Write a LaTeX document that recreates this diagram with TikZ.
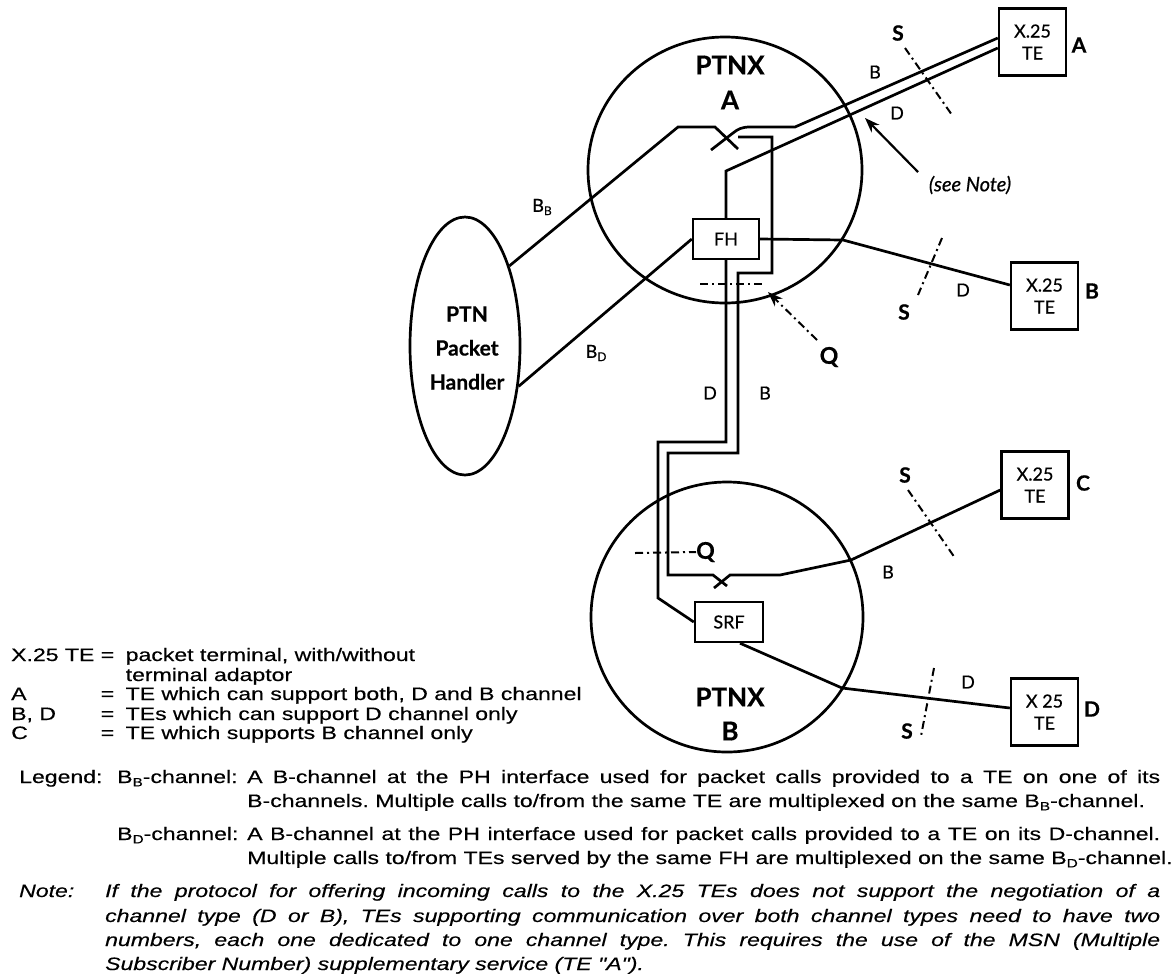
\documentclass[tikz,border=0pt]{standalone}
\usepackage{fontspec}
\setmainfont{Liberation Sans}
\newfontfamily\legfont[FakeStretch=1.28,FakeBold=0.4]{Liberation Sans}
\newfontfamily\labfont[FakeBold=0.6]{Lato}
\usetikzlibrary{shapes.geometric,arrows.meta}
\newcommand\chsub[1]{\raisebox{-0.35ex}{\fontsize{12}{12}\selectfont #1}}
\frenchspacing
\begin{document}
\begin{tikzpicture}[x=1pt,y=-1pt,
  ln/.style={line width=2.7pt},
  bx/.style={draw,line width=2.4pt,inner sep=0pt,align=center},
  tebox/.style={bx,minimum width=67pt,minimum height=67pt,font=\labfont\fontsize{18}{22}\selectfont},
  dd/.style={line width=2pt,dash pattern=on 8pt off 4pt on 2pt off 4pt},
  lab/.style={font=\labfont\fontsize{18}{20}\selectfont,inner sep=0pt},
  blab/.style={font=\labfont\bfseries\fontsize{21}{24}\selectfont,inner sep=0pt},
  big/.style={font=\labfont\bfseries\fontsize{26}{28}\selectfont,inner sep=0pt},
  sq/.style={font=\labfont\bfseries\fontsize{21}{24}\selectfont,inner sep=0pt},
  leg/.style={font=\legfont\fontsize{18}{20}\selectfont,anchor=base west,inner sep=0pt},
  legi/.style={leg,font=\legfont\itshape\fontsize{18}{20}\selectfont},
  arr/.style={line width=2.2pt,-{Stealth[length=15pt,width=11pt]}}
]
\useasboundingbox (0,0) rectangle (1174,975);

% ---- main shapes
\node[draw,ellipse,ln,minimum width=274pt,minimum height=266pt,inner sep=0pt] (ptnxA) at (725,170) {};
\node[draw,ellipse,ln,minimum width=272pt,minimum height=270pt,inner sep=0pt] (ptnxB) at (727,617) {};
\node[draw,ellipse,ln,minimum width=110pt,minimum height=258pt,inner sep=0pt] (ph) at (465,346) {};

\node[big] (ptnxAt) at (730,65) {PTNX};
\node[big] (ptnxAn) at (730,100) {A};
\node[big] (ptnxBt) at (730,697) {PTNX};
\node[big] (ptnxBn) at (730,731) {B};
\node[blab,align=center,font=\labfont\bfseries\fontsize{21}{34}\selectfont] (pht) at (467,348) {PTN\\Packet\\Handler};

\node[bx,lab,minimum width=66pt,minimum height=40pt] (fh) at (726,239) {FH};
\node[bx,lab,minimum width=68pt,minimum height=40pt] (srf) at (729,622) {SRF};

\node[tebox] (teA) at (1032.5,42) {X.25\\TE};
\node[tebox] (teB) at (1044.5,296) {X.25\\TE};
\node[tebox] (teC) at (1035,485) {X.25\\TE};
\node[tebox] (teD) at (1044.5,712) {X 25\\TE};

\node[blab] (teAl) at (1079,45) {A};
\node[blab] (teBl) at (1092,291) {B};
\node[blab] (teCl) at (1083,483) {C};
\node[blab] (teDl) at (1092,709) {D};

% ---- bend points
\coordinate (bb1) at (678,127);
\coordinate (bb2) at (715,127);
\coordinate (bb3) at (738,149);
\coordinate (ba1) at (795,127);
\coordinate (ba2) at (750,127);
\coordinate (ba3) at (733,133);
\coordinate (ba4) at (711,150);
\coordinate (da1) at (726,171);
\coordinate (b1) at (738,137);
\coordinate (b2) at (772,137);
\coordinate (b3) at (772,273);
\coordinate (b4) at (738,273);
\coordinate (b5) at (738,453);
\coordinate (b6) at (668,453);
\coordinate (b7) at (668,575);
\coordinate (b8) at (713,575);
\coordinate (b9) at (727,586);
\coordinate (c1) at (714,588);
\coordinate (c2) at (730,575);
\coordinate (c3) at (780,575);
\coordinate (c4) at (851,560);
\coordinate (d1) at (726,442);
\coordinate (d2) at (658,442);
\coordinate (d3) at (658,598);
\coordinate (e1) at (843,240);
\coordinate (f1) at (842,688);

% ---- connectors
\draw[ln] (ph.61) -- (bb1) -- (bb2) -- (bb3);
\draw[ln] ([yshift=4pt]teA.west) -- (ba1) -- (ba2) .. controls (742,127) and (738,129) .. (ba3) -- (ba4);
\draw[ln] ([yshift=-6pt]teA.west) -- (da1) -- (fh.north);
\draw[ln] (b1) -- (b2) -- (b3) -- (b4) -- (b5) -- (b6) -- (b7) -- (b8) -- (b9);
\draw[ln] (c1) -- (c2) -- (c3) -- (c4) -- ([yshift=-5pt]teC.west);
\draw[ln] (fh.south) -- (d1) -- (d2) -- (d3) -- (srf.west);
\draw[ln] (fh.east) -- (e1) -- ([yshift=11pt]teB.west);
\draw[ln] (ph.-37) -- (fh.west);
\draw[ln] ([xshift=11pt]srf.south) -- (f1) -- ([yshift=4pt]teD.west);

% ---- reference points S and Q
\coordinate (sa1) at (905,48);  \coordinate (sa2) at (952,115);
\coordinate (sb1) at (942,238); \coordinate (sb2) at (918,295);
\coordinate (sc1) at (908,490); \coordinate (sc2) at (955,558);
\coordinate (sd1) at (934,668); \coordinate (sd2) at (921,736);
\draw[dd] (sa1) -- (sa2);
\draw[dd] (sb1) -- (sb2);
\draw[dd] (sc1) -- (sc2);
\draw[dd] (sd1) -- (sd2);
\node[sq] (sA) at (898,33) {S};
\node[sq] (sB) at (904,312) {S};
\node[sq] (sC) at (905,475) {S};
\node[sq] (sD) at (907,731) {S};

\coordinate (qa1) at (700,284); \coordinate (qa2) at (764,284);
\draw[dd] (qa1) -- (qa2);
\node[sq,font=\labfont\bfseries\fontsize{23}{24}\selectfont] (qA) at (829,357) {Q};
\coordinate (qat) at (817,340); \coordinate (qah) at (768,292);
\draw[dd,-{Stealth[length=15pt,width=11pt]}] (qat) -- (qah);
\coordinate (qb1) at (635,553);
\node[sq,font=\labfont\bfseries\fontsize{23}{24}\selectfont,anchor=west] (qB) at (696,552) {Q};
\draw[dd] (qb1) -- (qB.west);

% ---- note arrow
\node[lab,font=\labfont\itshape\fontsize{20}{22}\selectfont] (seen) at (970,185) {(see Note)};
\coordinate (nt) at (918,172); \coordinate (nh) at (865,118);
\draw[arr] (nt) -- (nh);

% ---- channel labels
\node[lab] (chB1) at (875,72) {B};
\node[lab] (chD1) at (897,113) {D};
\node[lab] (chD2) at (963,290) {D};
\node[lab] (chB3) at (888,572) {B};
\node[lab] (chD4) at (968,682) {D};
\node[lab] (chD5) at (710,393) {D};
\node[lab] (chB5) at (765,393) {B};
\node[lab] (chBB) at (542,207) {B\chsub{B}};
\node[lab] (chBD) at (596,353) {B\chsub{D}};

% ---- key
\coordinate (r2) at (0,681);
\coordinate (r3) at (0,700);
\coordinate (r4) at (0,720);
\coordinate (r5) at (0,739);
\node[leg] (k1a) at (11,661) {X.25 TE};
\node[leg] (k1b) at ([xshift=6pt]k1a.base east) {=};
\node[leg] (k1c) at ([xshift=11pt]k1b.base east) {packet terminal, with/without};
\node[leg] (k2c) at (k1c.base west |- r2) {terminal adaptor};
\node[leg] (k3a) at (k1a.base west |- r3) {A};
\node[leg] (k3b) at (k1b.base west |- r3) {=};
\node[leg] (k3c) at (k1c.base west |- r3) {TE which can support both, D and B channel};
\node[leg] (k4a) at (k1a.base west |- r4) {B, D};
\node[leg] (k4b) at (k1b.base west |- r4) {=};
\node[leg] (k4c) at (k1c.base west |- r4) {TEs which can support D channel only};
\node[leg] (k5a) at (k1a.base west |- r5) {C};
\node[leg] (k5b) at (k1b.base west |- r5) {=};
\node[leg] (k5c) at (k1c.base west |- r5) {TE which supports B channel only};

% ---- legend
\node[leg] (lg1) at (19,783) {Legend:};
\node[leg] (lg2) at (117,783) {B\chsub{B}-channel:};
\node[leg] (lg3) at (247,783) {\makebox[913pt][s]{A B-channel at the PH interface used for packet calls provided to a TE on one of its}};
\node[leg] (lg4) at (247,807) {B-channels. Multiple calls to/from the same TE are multiplexed on the same B\chsub{B}-channel.};
\node[leg] (lg5) at (117,840) {B\chsub{D}-channel:};
\node[leg] (lg6) at (247,840) {\makebox[913pt][s]{A B-channel at the PH interface used for packet calls provided to a TE on its D-channel.}};
\node[leg] (lg7) at (247,864) {Multiple calls to/from TEs served by the same FH are multiplexed on the same B\chsub{D}-channel.};

\node[legi] (nt0) at (19,897) {Note:};
\node[legi] (nt1) at (105,897) {\makebox[1055pt][s]{If the protocol for offering incoming calls to the X.25 TEs does not support the negotiation of a}};
\node[legi] (nt2) at (105,922) {\makebox[1055pt][s]{channel type (D or B), TEs supporting communication over both channel types need to have two}};
\node[legi] (nt3) at (105,946) {\makebox[1055pt][s]{numbers, each one dedicated to one channel type. This requires the use of the MSN (Multiple}};
\node[legi] (nt4) at (105,970) {Subscriber Number) supplementary service (TE "A").};
\end{tikzpicture}
\end{document}
